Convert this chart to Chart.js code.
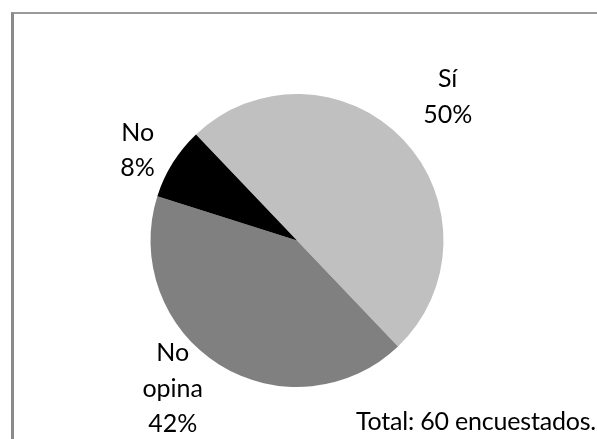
<!DOCTYPE html>
<html>
<head>
<meta charset="utf-8">
<script src="https://cdn.jsdelivr.net/npm/chart.js@4.4.1/dist/chart.umd.min.js"></script>
<style>
  html, body { margin: 0; padding: 0; background: #ffffff; }
  #wrap { position: relative; width: 597px; height: 439px; overflow: hidden; background: #fff; }
  #frame { position: absolute; left: 11px; top: 12px; width: 600px; height: 440px;
           border-left: 3px solid #8a8a8a; border-top: 2px solid #9a9a9a; box-sizing: border-box; }
  canvas { position: absolute; left: 0; top: 0; }
  #total { position: absolute; right: 1px; top: 405px; font-family: Lato, "Open Sans", sans-serif;
           font-size: 25px; color: #000; white-space: nowrap; letter-spacing: -0.2px; }
</style>
</head>
<body>
<div id="wrap">
  <div id="frame"></div>
  <canvas id="c" width="597" height="439"></canvas>
  <div id="total">Total: 60 encuestados.</div>
</div>
<script>
// Data
const categories = ["Sí", "No opina", "No"];
const labelLines = [["Sí", "50%"], ["No", "opina", "42%"], ["No", "8%"]];
const percentages = [50, 42, 8];
const sliceColors = ["#c0c0c0", "#808080", "#000000"];

// Label placement (distance factor from center, angle tweak in degrees)
const labelPlacement = [
  { dist: 1.42, tweak: 0 },
  { dist: 1.32, tweak: 8 },
  { dist: 1.25, tweak: -2.5 }
];

const outsideLabels = {
  id: 'outsideLabels',
  afterDatasetsDraw(chart) {
    const ctx = chart.ctx;
    const meta = chart.getDatasetMeta(0);
    ctx.save();
    ctx.font = '25px Lato, "Open Sans", sans-serif';
    ctx.fillStyle = '#000';
    ctx.textAlign = 'center';
    ctx.textBaseline = 'middle';
    const lh = 35.5;
    meta.data.forEach((arc, i) => {
      const p = arc.getProps(['x', 'y', 'startAngle', 'endAngle', 'outerRadius'], true);
      const mid = (p.startAngle + p.endAngle) / 2 + labelPlacement[i].tweak * Math.PI / 180;
      const r = p.outerRadius * labelPlacement[i].dist;
      const cx = p.x + Math.cos(mid) * r;
      const cy = p.y + Math.sin(mid) * r;
      const lines = labelLines[i];
      const y0 = cy - (lines.length - 1) * lh / 2;
      lines.forEach((t, k) => ctx.fillText(t, cx, y0 + k * lh));
    });
    ctx.restore();
  }
};

new Chart(document.getElementById('c'), {
  type: 'pie',
  data: {
    labels: categories,
    datasets: [{
      data: percentages,
      backgroundColor: sliceColors,
      borderWidth: 0
    }]
  },
  options: {
    responsive: false,
    animation: false,
    rotation: -43.6,
    layout: { padding: { left: 150, right: 153, top: 94, bottom: 52 } },
    plugins: {
      legend: { display: false },
      tooltip: { enabled: false },
      title: { display: false }
    }
  },
  plugins: [outsideLabels]
});
</script>
</body>
</html>
